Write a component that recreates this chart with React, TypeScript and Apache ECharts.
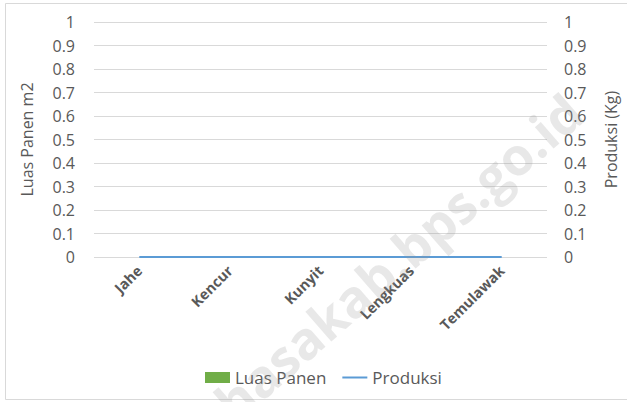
import React, { useEffect, useRef } from "react";
import * as echarts from "echarts";

const categories = ["Jahe", "Kencur", "Kunyit", "Lengkuas", "Temulawak"];
const luasPanen = [0, 0, 0, 0, 0];
const produksi = [0, 0, 0, 0, 0];
const axisMin = 0;
const axisMax = 1;
const axisStep = 0.1;

const FONT = "'Open Sans', 'Noto Sans', sans-serif";
const TXT = "#595959";

export default function App() {
  const ref = useRef<HTMLDivElement>(null);
  useEffect(() => {
    document.body.style.margin = "0";
    const chart = echarts.init(ref.current!, null, { renderer: "svg" });
    const yAxisCommon = {
      type: "value" as const,
      min: axisMin,
      max: axisMax,
      interval: axisStep,
      nameLocation: "middle" as const,
      nameTextStyle: { color: TXT, fontSize: 16, fontFamily: FONT },
      axisLine: { show: false },
      axisTick: { show: false },
      axisLabel: { color: TXT, fontSize: 16, fontFamily: FONT },
      splitLine: { lineStyle: { color: "#d9d9d9", width: 1 } },
    };
    chart.setOption({
      animation: false,
      backgroundColor: "#ffffff",
      textStyle: { fontFamily: FONT },
      grid: { left: 94, right: 76, top: 22, bottom: 145, containLabel: false },
      legend: {
        bottom: 11,
        left: 200,
        itemWidth: 25,
        itemHeight: 11,
        itemGap: 16,
        textStyle: { color: TXT, fontSize: 17, fontFamily: FONT },
        data: [
          { name: "Luas Panen", icon: "rect" },
          {
            name: "Produksi",
            icon: "path://M0,0 H25 V2 H0 Z",
            itemStyle: { color: "#5b9bd5" },
          },
        ],
      },
      xAxis: {
        type: "category",
        data: categories,
        boundaryGap: true,
        axisLine: { show: false },
        axisTick: { show: false },
        axisLabel: {
          interval: 0,
          rotate: 45,
          margin: 11,
          color: TXT,
          fontSize: 14.5,
          fontWeight: "bold",
          fontFamily: FONT,
        },
      },
      yAxis: [
        { ...yAxisCommon, name: "Luas Panen m2", nameGap: 59, position: "left", axisLabel: { ...yAxisCommon.axisLabel, margin: 19 } },
        { ...yAxisCommon, name: "Produksi (Kg)", nameGap: 56, position: "right", axisLabel: { ...yAxisCommon.axisLabel, margin: 17 } },
      ],
      series: [
        {
          name: "Luas Panen",
          type: "bar",
          data: luasPanen,
          yAxisIndex: 0,
          itemStyle: { color: "#70ad47" },
        },
        {
          name: "Produksi",
          type: "line",
          data: produksi,
          yAxisIndex: 1,
          symbol: "none",
          lineStyle: { color: "#5b9bd5", width: 2 },
          itemStyle: { color: "#5b9bd5" },
        },
      ],
      graphic: [
        {
          type: "rect",
          shape: { x: 5.5, y: 3.5, width: 640, height: 396 },
          style: { fill: "none", stroke: "#d9d9d9", lineWidth: 1 },
          silent: true,
          z: 0,
        },
        {
          type: "text",
          x: 348,
          y: 300,
          rotation: (41 * Math.PI) / 180,
          style: {
            text: "minahasakab.bps.go.id",
            fontSize: 52,
            fontWeight: "bold",
            fontFamily: FONT,
            fill: "rgba(150,150,150,0.22)",
            align: "center",
            verticalAlign: "middle",
          },
          silent: true,
          z: 100,
        },
      ],
    });
    return () => chart.dispose();
  }, []);
  return <div ref={ref} style={{ width: 627, height: 402 }} />;
}
